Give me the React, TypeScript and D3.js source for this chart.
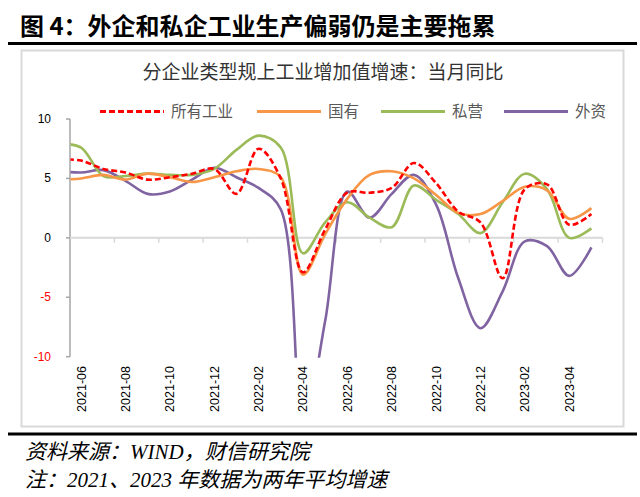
import React from 'react';
import * as d3 from 'd3';

// monthly, 2021-05 .. 2023-05; the axis starts at 2021-06 so the first month is cut off at the axis
const months = [
  '2021-05', '2021-06', '2021-07', '2021-08', '2021-09', '2021-10', '2021-11', '2021-12',
  '2022-01', '2022-02', '2022-03', '2022-04', '2022-05', '2022-06', '2022-07',
  '2022-08', '2022-09', '2022-10', '2022-11', '2022-12', '2023-01', '2023-02',
  '2023-03', '2023-04', '2023-05',
];

const allIndustry = [6.6, 6.5, 5.8, 5.5, 4.9, 5.1, 5.4, 5.8, 3.7, 7.5, 5.0, -2.9, 0.7, 3.8, 3.8, 4.2, 6.3, 4.6, 2.2, 1.3, -3.4, 4.1, 4.5, 1.1, 2.0];
const stateOwned = [4.9, 5.0, 5.3, 4.9, 5.4, 5.1, 4.7, 5.1, 5.6, 5.8, 5.1, -3.1, 0.3, 3.3, 5.3, 5.6, 5.0, 3.6, 2.1, 2.0, 3.1, 4.3, 4.0, 1.6, 2.5];
const privateOwned = [7.9, 7.6, 5.2, 5.2, 5.4, 5.3, 5.3, 5.8, 7.4, 8.6, 7.6, -1.3, 1.3, 3.0, 1.7, 0.9, 4.4, 3.2, 2.0, 0.4, 3.0, 5.4, 4.1, 0.0, 0.8];
const foreignOwned = [5.6, 5.5, 5.7, 4.8, 3.7, 3.9, 4.9, 5.9, 5.1, 4.2, 2.4, -16, -7, 3.9, 1.7, 3.7, 5.3, 2.8, -3.4, -7.6, -4.5, -0.3, -0.7, -3.2, -0.8];

const yTicks = [-10, -5, 0, 5, 10];

const series = [
  { name: '所有工业', values: allIndustry, color: '#FF0000', dash: '6,3' },
  { name: '国有', values: stateOwned, color: '#F79646', dash: undefined },
  { name: '私营', values: privateOwned, color: '#9BBB59', dash: undefined },
  { name: '外资', values: foreignOwned, color: '#8064A2', dash: undefined },
];

const legendX = [100, 257, 381, 504];

const cjk = '"Noto Sans CJK SC", sans-serif';
const serif = '"Liberation Serif", "Noto Sans CJK SC", serif';
const latin = '"Liberation Sans", Arial, sans-serif';

export default function App() {
  const left = 70;
  const right = 602.5;
  const step = (right - left) / (months.length - 1);
  const x = d3.scaleBand<string>().domain(months).range([left - step, right]);
  const cx = (m: string) => (x(m) as number) + x.bandwidth() / 2;
  const y = d3.scaleLinear().domain([-10, 10]).range([356.7, 119]);

  const line = d3
    .line<number>()
    .x((_, i) => cx(months[i]))
    .y((d) => y(d))
    .curve(d3.curveCatmullRom);

  const boundaryTicks = d3.range(3, months.length + 1, 2).map((k) => x.range()[0] + x.step() * k);

  return (
    <>
      <style>{'body{margin:0}'}</style>
      <svg width={640} height={497} style={{ display: 'block', background: '#fff' }}>
        {/* heading */}
        <text x={20} y={35} fontSize={24} fontWeight="bold" fontFamily={cjk} fill="#000">
          图 4：外企和私企工业生产偏弱仍是主要拖累
        </text>
        <line x1={8} x2={637} y1={43.5} y2={43.5} stroke="#000" strokeWidth={3} />

        {/* chart frame */}
        <rect x={21.5} y={50.5} width={602} height={376} fill="#fff" stroke="#d9d9d9" strokeWidth={2} />
        <text x={323} y={79} textAnchor="middle" fontSize={19} fontFamily={cjk} fill="#333">
          分企业类型规上工业增加值增速：当月同比
        </text>

        {/* legend */}
        {series.map((s, i) => (
          <g key={s.name}>
            <line
              x1={legendX[i]}
              x2={legendX[i] + 64}
              y1={111.5}
              y2={111.5}
              stroke={s.color}
              strokeWidth={3}
              strokeDasharray={s.dash}
            />
            <text x={legendX[i] + 71} y={117} fontSize={15.5} fontFamily={cjk} fill="#595959">
              {s.name}
            </text>
          </g>
        ))}

        {/* y axis */}
        <line x1={left} x2={left} y1={y(10)} y2={y(-10)} stroke="#a6a6a6" strokeWidth={1.5} />
        {yTicks.map((t) => (
          <g key={t}>
            <line x1={left - 4} x2={left} y1={y(t)} y2={y(t)} stroke="#a6a6a6" strokeWidth={1.5} />
            <text
              x={51}
              y={y(t) + 4}
              textAnchor="end"
              fontSize={12}
              fontFamily={latin}
              fill={t < 0 ? '#FF0000' : '#000'}
            >
              {t}
            </text>
          </g>
        ))}

        {/* x axis at zero */}
        <line x1={left} x2={right} y1={y(0)} y2={y(0)} stroke="#d9d9d9" strokeWidth={2} />
        {boundaryTicks.map((bx) => (
          <line key={bx} x1={bx} x2={bx} y1={y(0)} y2={y(0) + 5} stroke="#d9d9d9" strokeWidth={1.5} />
        ))}
        {months.map((m, i) =>
          i % 2 === 1 ? (
            <text
              key={m}
              transform={`translate(${cx(m) + 4.5},366) rotate(-90)`}
              textAnchor="end"
              fontSize={12.5}
              fontFamily={latin}
              fill="#000"
            >
              {m}
            </text>
          ) : null
        )}

        {/* series */}
        <defs>
          <clipPath id="plot">
            <rect x={left + 0.5} y={y(10) - 5} width={540} height={y(-10) - y(10) + 6} />
          </clipPath>
        </defs>
        <g clipPath="url(#plot)">
          {[...series].reverse().map((s) => (
            <path
              key={s.name}
              d={line(s.values) ?? ''}
              fill="none"
              stroke={s.color}
              strokeWidth={2.6}
              strokeDasharray={s.dash}
            />
          ))}
        </g>

        {/* footer */}
        <line x1={8} x2={637} y1={434} y2={434} stroke="#000" strokeWidth={3} />
        <text x={25} y={459} fontSize={21} fontStyle="italic" fontFamily={serif} fill="#000">
          资料来源：WIND，财信研究院
        </text>
        <text x={25} y={487} fontSize={21} fontStyle="italic" fontFamily={serif} fill="#000">
          注：2021、2023 年数据为两年平均增速
        </text>
      </svg>
    </>
  );
}
